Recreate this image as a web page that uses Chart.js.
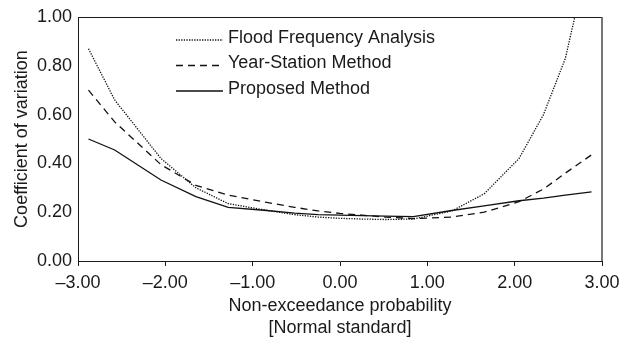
<!DOCTYPE html>
<html>
<head>
<meta charset="utf-8">
<script src="https://cdn.jsdelivr.net/npm/chart.js@4"></script>
<style>
  html, body { margin: 0; padding: 0; background: #fff; }
  #wrap { width: 629px; height: 340px; }
</style>
</head>
<body>
<div id="wrap"><canvas id="cvChart"></canvas></div>
<script>
// non-exceedance probability (normal standard variate)
const xValues = [-2.88, -2.58, -2.05, -1.65, -1.28, -0.84, -0.52, -0.25, 0, 0.25, 0.52, 0.84, 1.28, 1.65, 2.05, 2.33, 2.58, 2.88];
const floodFreq   = [0.87, 0.66, 0.42, 0.30, 0.235, 0.208, 0.19, 0.18, 0.175, 0.172, 0.17, 0.172, 0.205, 0.275, 0.42, 0.60, 0.83, 1.30];
const yearStation = [0.70, 0.57, 0.395, 0.31, 0.27, 0.24, 0.22, 0.205, 0.195, 0.188, 0.18, 0.174, 0.18, 0.20, 0.243, 0.295, 0.36, 0.435];
const proposed    = [0.50, 0.455, 0.332, 0.264, 0.22, 0.207, 0.196, 0.19, 0.188, 0.186, 0.184, 0.182, 0.207, 0.226, 0.247, 0.258, 0.27, 0.283];
const xTicks = [-3, -2, -1, 0, 1, 2, 3];
const seriesNames = ["Flood Frequency Analysis", "Year-Station Method", "Proposed Method"];

const FONT = "'Liberation Sans', Arial, sans-serif";
const INK = "#1a1a1a";

function pts(ys){
    return ys.map((y, i) => ({x: xValues[i], y: y}));
}

function fmt(v){
    return v < 0 ? "\u2013" + Math.abs(v).toFixed(2) : v.toFixed(2);
}

// frame + legend drawn inside the plot
const frameLegend = {
    id: "frameLegend",
    afterDatasetsDraw(chart){
        const ctx = chart.ctx;
        const a = chart.chartArea;
        ctx.save();
        ctx.strokeStyle = INK;
        ctx.lineWidth = 1;
        ctx.beginPath();
        ctx.moveTo(a.left, a.top + 0.5);
        ctx.lineTo(a.right, a.top + 0.5);
        ctx.stroke();
        ctx.strokeStyle = "#555";
        ctx.lineWidth = 1.6;
        ctx.beginPath();
        ctx.moveTo(a.right, a.top);
        ctx.lineTo(a.right, a.bottom);
        ctx.stroke();

        const rows = [40, 65.5, 91];
        ctx.font = "18px " + FONT;
        ctx.textBaseline = "middle";
        ctx.fillStyle = INK;
        chart.data.datasets.forEach((ds, i) => {
            ctx.strokeStyle = ds.borderColor;
            ctx.lineWidth = ds.borderWidth;
            ctx.setLineDash(ds.borderDash || []);
            ctx.beginPath();
            ctx.moveTo(176, rows[i]);
            ctx.lineTo(223, rows[i]);
            ctx.stroke();
            ctx.setLineDash([]);
            ctx.fillText(ds.label, 228, rows[i] - 2);
        });
        ctx.restore();
    }
};

new Chart("cvChart", {
    type: "line",
    data: {
        datasets: [{
            label: seriesNames[0],
            data: pts(floodFreq),
            borderColor: "#111",
            borderWidth: 1.3,
            borderDash: [1.3, 1.3],
            pointRadius: 0,
            fill: false
        }, {
            label: seriesNames[1],
            data: pts(yearStation),
            borderColor: "#111",
            borderWidth: 1.3,
            borderDash: [7, 5],
            pointRadius: 0,
            fill: false
        }, {
            label: seriesNames[2],
            data: pts(proposed),
            borderColor: "#111",
            borderWidth: 1.3,
            pointRadius: 0,
            fill: false
        }]
    },
    options: {
        responsive: true,
        maintainAspectRatio: false,
        animation: false,
        layout: { padding: { top: 17, right: 27, left: 0, bottom: 0 } },
        plugins: {
            legend: { display: false },
            tooltip: { enabled: false }
        },
        scales: {
            x: {
                type: "linear",
                min: -3,
                max: 3,
                afterBuildTicks: (s) => { s.ticks = xTicks.map(v => ({value: v})); },
                afterFit: (s) => { s.height = 79; },
                border: { display: true, color: INK, width: 1 },
                grid: { display: true, drawOnChartArea: false, drawTicks: true, tickLength: 5, color: INK },
                ticks: {
                    color: INK,
                    padding: 6,
                    maxRotation: 0,
                    font: { family: FONT, size: 18 },
                    callback: (v) => fmt(v)
                },
                title: {
                    display: true,
                    text: ["Non-exceedance probability", "[Normal standard]"],
                    color: INK,
                    font: { family: FONT, size: 18, lineHeight: 1.22 },
                    padding: { top: 0, bottom: 1 }
                }
            },
            y: {
                min: 0,
                max: 1,
                afterFit: (s) => { s.width = 78; },
                border: { display: true, color: INK, width: 1 },
                grid: { display: false, drawTicks: false },
                ticks: {
                    stepSize: 0.2,
                    color: INK,
                    padding: 6,
                    font: { family: FONT, size: 18 },
                    callback: (v) => fmt(v)
                },
                title: {
                    display: true,
                    text: "Coefficient of variation",
                    color: INK,
                    font: { family: FONT, size: 18 },
                    padding: { top: 11, bottom: 0 }
                }
            }
        }
    },
    plugins: [frameLegend]
});
</script>
</body>
</html>
